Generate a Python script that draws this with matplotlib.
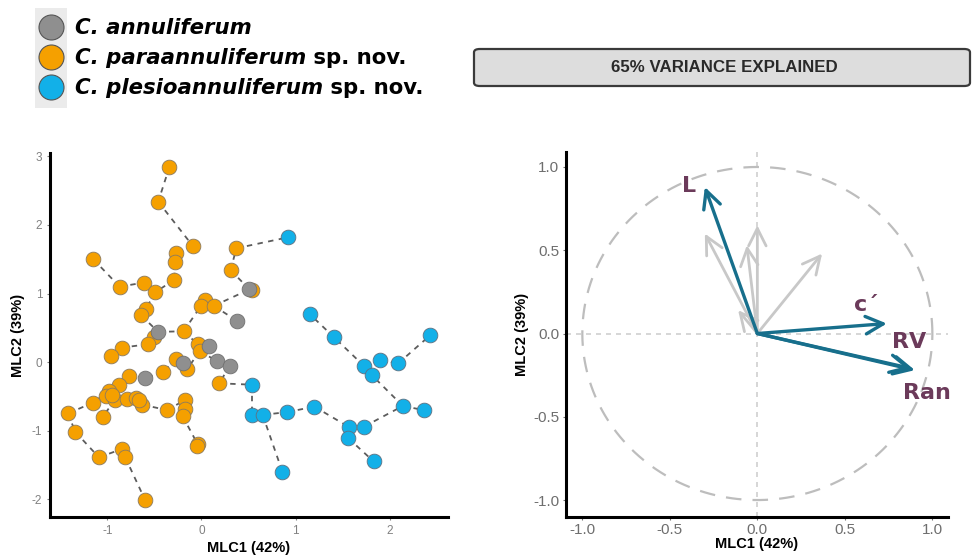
import matplotlib
matplotlib.use("Agg")
import matplotlib.pyplot as plt
from matplotlib.patches import FancyArrowPatch, FancyBboxPatch
from matplotlib.lines import Line2D
import numpy as np

# ---------------- data ----------------
species = ["C. annuliferum", "C. paraannuliferum", "C. plesioannuliferum"]

ann_x = [0.51, 0.38, -0.46, 0.08, -0.20, 0.17, 0.30, -0.60]
ann_y = [1.06, 0.60, 0.44, 0.24, -0.02, 0.01, -0.05, -0.23]

para_x = [-0.34, -0.46, -0.09, -0.27, -0.28, -0.29, -1.15, -0.87, -0.61, -0.49,
          -0.59, -0.64, 0.37, 0.31, 0.54, 0.04, 0.00, 0.13, -0.19, -0.50,
          -0.57, -0.85, -0.96, -0.04, -0.02, -0.27, -0.15, 0.19, -0.41, -0.77,
          -0.88, -0.98, -1.01, -0.92, -1.15, -0.79, -0.70, -0.63, -1.05, -1.42,
          -1.34, -1.09, -0.85, -0.81, -0.60, -0.37, -0.18, -0.17, -0.20, -0.04,
          -0.05, -0.95, -0.66]
para_y = [2.85, 2.34, 1.69, 1.59, 1.46, 1.20, 1.50, 1.10, 1.16, 1.02,
          0.78, 0.68, 1.66, 1.34, 1.05, 0.91, 0.82, 0.82, 0.45, 0.36,
          0.26, 0.21, 0.09, 0.26, 0.16, 0.05, -0.10, -0.31, -0.15, -0.21,
          -0.34, -0.42, -0.50, -0.55, -0.59, -0.54, -0.52, -0.62, -0.80, -0.75,
          -1.02, -1.39, -1.27, -1.39, -2.01, -0.70, -0.56, -0.69, -0.79, -1.20,
          -1.23, -0.48, -0.56]

ples_x = [0.92, 1.15, 1.41, 1.73, 1.90, 2.09, 1.81, 2.43, 2.14, 2.36,
          0.54, 0.54, 0.65, 0.91, 1.20, 1.57, 1.73, 1.56, 1.83, 0.86]
ples_y = [1.82, 0.70, 0.36, -0.06, 0.03, -0.02, -0.19, 0.39, -0.64, -0.70,
          -0.33, -0.77, -0.77, -0.73, -0.65, -0.95, -0.94, -1.11, -1.45, -1.60]

# tree edges (G = annuliferum, O = paraannuliferum, B = plesioannuliferum)
edges = [
    ("O0", "O1"), ("O1", "O2"), ("O2", "O3"), ("O3", "O4"), ("O4", "O5"), ("O5", "O9"),
    ("O6", "O7"), ("O7", "O8"), ("O8", "O9"), ("O9", "O10"), ("O10", "O11"), ("O11", "G2"),
    ("G2", "O18"), ("O18", "O15"), ("O15", "O16"), ("O16", "O17"), ("O17", "G0"),
    ("G0", "O13"), ("O13", "O12"), ("O12", "B0"), ("O17", "G1"),
    ("G2", "O19"), ("O19", "O20"), ("O20", "O21"), ("O21", "O22"),
    ("O18", "O23"), ("O23", "G3"), ("O23", "O24"), ("O24", "G5"), ("G5", "G6"),
    ("G6", "O27"), ("O27", "B10"), ("B10", "B11"), ("B11", "B12"), ("B12", "B13"),
    ("B12", "B19"), ("B13", "B14"), ("B14", "B15"), ("B15", "B16"), ("B15", "B17"),
    ("B17", "B18"), ("B16", "B8"), ("B8", "B9"), ("B8", "B6"), ("B6", "B3"),
    ("B3", "B4"), ("B4", "B5"), ("B5", "B7"), ("B3", "B2"), ("B2", "B1"),
    ("O24", "O26"), ("O25", "G4"), ("G4", "O26"), ("O25", "O28"), ("O28", "G7"),
    ("G7", "O29"), ("O29", "O30"), ("O30", "O31"), ("O31", "O32"), ("O32", "O33"),
    ("O31", "O34"), ("O34", "O39"), ("O39", "O40"), ("O40", "O41"), ("O41", "O42"),
    ("O42", "O43"), ("O43", "O44"), ("O33", "O38"), ("O32", "O51"), ("O33", "O35"),
    ("O35", "O36"), ("O36", "O52"), ("O52", "O37"), ("O37", "O45"), ("O45", "O46"),
    ("O46", "O47"), ("O47", "O48"), ("O48", "O49"), ("O49", "O50"),
]

# loadings (correlation circle)
var_names = ["L", "c\u00b4", "RV", "Ran"]
var_x = [-0.30, 0.74, 0.90, 0.88]
var_y = [0.88, 0.06, -0.22, -0.21]
other_x = [-0.30, -0.06, 0.00, 0.37, -0.11]
other_y = [0.60, 0.53, 0.65, 0.48, 0.14]

x_label = "MLC1 (42%)"
y_label = "MLC2 (39%)"
strip_text = "65% VARIANCE EXPLAINED"

# ---------------- style ----------------
col_ann = "#8f8f8f"
col_para = "#f5a000"
col_ples = "#12b0e8"
col_arrow = "#176f8c"
col_grey_arrow = "#c8c8c8"
col_lab = "#6b3a5a"
tick_col = "#808080"

W, H = 973, 557
fig = plt.figure(figsize=(W / 100, H / 100), dpi=100)

def fr(x0, y0, x1, y1):
    return [x0 / W, 1 - y1 / H, (x1 - x0) / W, (y1 - y0) / H]

# ---------------- left panel ----------------
ax1 = fig.add_axes(fr(50, 153, 448, 517))
ax1.set_xlim(-1.61, 2.62)
ax1.set_ylim(-2.26, 3.05)

pts = {}
for pre, xs, ys in (("G", ann_x, ann_y), ("O", para_x, para_y), ("B", ples_x, ples_y)):
    for i, (x, y) in enumerate(zip(xs, ys)):
        pts[f"{pre}{i}"] = (x, y)

for a, b in edges:
    (xa, ya), (xb, yb) = pts[a], pts[b]
    ax1.plot([xa, xb], [ya, yb], color="#5c5c5c", lw=1.3, ls=(0, (3, 3)), zorder=1)

ms = 112
ax1.scatter(para_x, para_y, s=ms, c=col_para, edgecolors="#8a7a60", linewidths=0.6, zorder=3)
ax1.scatter(ples_x, ples_y, s=ms, c=col_ples, edgecolors="#607080", linewidths=0.6, zorder=3)
ax1.scatter(ann_x, ann_y, s=ms, c=col_ann, edgecolors="#707070", linewidths=0.6, zorder=4)

ax1.set_xticks([-1, 0, 1, 2])
ax1.set_yticks([-2, -1, 0, 1, 2, 3])
ax1.set_xticklabels(["-1", "0", "1", "2"])
ax1.set_yticklabels(["-2", "-1", "0", "1", "2", "3"])
for sp in ("top", "right"):
    ax1.spines[sp].set_visible(False)
for sp in ("left", "bottom"):
    ax1.spines[sp].set_linewidth(2.2)
    ax1.spines[sp].set_color("black")
ax1.tick_params(colors=tick_col, labelsize=8.5, length=2.5, width=0.8, pad=3)
ax1.set_xlabel(x_label, fontsize=10.5, fontweight="bold", labelpad=3, family="Liberation Sans")
ax1.set_ylabel(y_label, fontsize=10.5, fontweight="bold", labelpad=5, family="Liberation Sans")
for t in ax1.get_xticklabels() + ax1.get_yticklabels():
    t.set_family("Liberation Sans")

# ---------------- right panel ----------------
ax2 = fig.add_axes(fr(565.7, 152, 948.3, 516.7))
ax2.set_xlim(-1.095, 1.091)
ax2.set_ylim(-1.10, 1.09)
ax2.axhline(0, color="#cfcfcf", lw=1.2, ls=(0, (3, 3)), zorder=0)
ax2.axvline(0, color="#cfcfcf", lw=1.2, ls=(0, (3, 3)), zorder=0)
th = np.linspace(0, 2 * np.pi, 400)
ax2.plot(np.cos(th), np.sin(th), color="#bdbdbd", lw=1.6, ls=(0, (7, 5)), zorder=1)

def arrow(ax, x, y, color, lw):
    ax.add_patch(FancyArrowPatch((0, 0), (x, y), arrowstyle="->,head_length=0.6,head_width=0.3",
                                 mutation_scale=21, color=color, lw=lw, shrinkA=0, shrinkB=0,
                                 zorder=3, capstyle="round", joinstyle="round"))

for x, y in zip(other_x, other_y):
    arrow(ax2, x, y, col_grey_arrow, 2.0)
for x, y in zip(var_x, var_y):
    arrow(ax2, x, y, col_arrow, 2.4)

lab_pos = {"L": (-0.39, 0.885), "c\u00b4": (0.62, 0.17), "RV": (0.87, -0.05), "Ran": (0.97, -0.36)}
for n in var_names:
    lx, ly = lab_pos[n]
    ax2.text(lx, ly, n, color=col_lab, fontsize=16, fontweight="bold", ha="center", va="center",
             family="DejaVu Sans", zorder=5)

ax2.set_xticks([-1.0, -0.5, 0.0, 0.5, 1.0])
ax2.set_yticks([-1.0, -0.5, 0.0, 0.5, 1.0])
ax2.set_xticklabels(["-1.0", "-0.5", "0.0", "0.5", "1.0"])
ax2.set_yticklabels(["-1.0", "-0.5", "0.0", "0.5", "1.0"])
for sp in ("top", "right"):
    ax2.spines[sp].set_visible(False)
for sp in ("left", "bottom"):
    ax2.spines[sp].set_linewidth(2.2)
    ax2.spines[sp].set_color("black")
ax2.tick_params(colors="#707070", labelsize=11, length=2.5, width=0.8, pad=2)
for t in ax2.get_xticklabels() + ax2.get_yticklabels():
    t.set_family("Liberation Sans")
    t.set_color("#6e6e6e")
ax2.set_xlabel(x_label, fontsize=10.5, fontweight="bold", labelpad=0, family="Liberation Sans")
ax2.set_ylabel(y_label, fontsize=10.5, fontweight="bold", labelpad=3, family="Liberation Sans")

# ---------------- strip ----------------
strip = FancyBboxPatch((474 / W, 1 - 86 / H), (970 - 474) / W, (86 - 49) / H,
                       boxstyle="round,pad=0,rounding_size=0.006", transform=fig.transFigure,
                       facecolor="#dddddd", edgecolor="#3a3a3a", lw=1.6)
fig.patches.append(strip)
fig.text(724 / W, 1 - 67.5 / H, strip_text, ha="center", va="center", fontsize=12.2,
         fontweight="bold", color="#2a2a2a", family="Liberation Sans")

# ---------------- legend ----------------
fig.patches.append(plt.Rectangle((35 / W, 1 - 108 / H), 32 / W, 100 / H, transform=fig.transFigure,
                                 facecolor="#ebebeb", edgecolor="none"))
leg_cols = [col_ann, col_para, col_ples]
leg_suffix = ["", " sp. nov.", " sp. nov."]
renderer = fig.canvas.get_renderer()
for i, (name, c, suf) in enumerate(zip(species, leg_cols, leg_suffix)):
    yc = 27 + 30 * i
    fig.add_artist(Line2D([51 / W], [1 - yc / H], transform=fig.transFigure, marker="o", ms=18,
                          markerfacecolor=c, markeredgecolor="#555555", markeredgewidth=0.8, ls="none"))
    t = fig.text(75 / W, 1 - (yc + 1) / H, name, fontsize=15.3, fontweight="bold", style="italic",
                 ha="left", va="center", family="DejaVu Sans")
    if suf:
        bb = t.get_window_extent(renderer)
        fig.text(bb.x1 / W, 1 - (yc + 1) / H, suf, fontsize=15.3, fontweight="bold",
                 ha="left", va="center", family="DejaVu Sans")

fig.savefig("out.png", dpi=100)
